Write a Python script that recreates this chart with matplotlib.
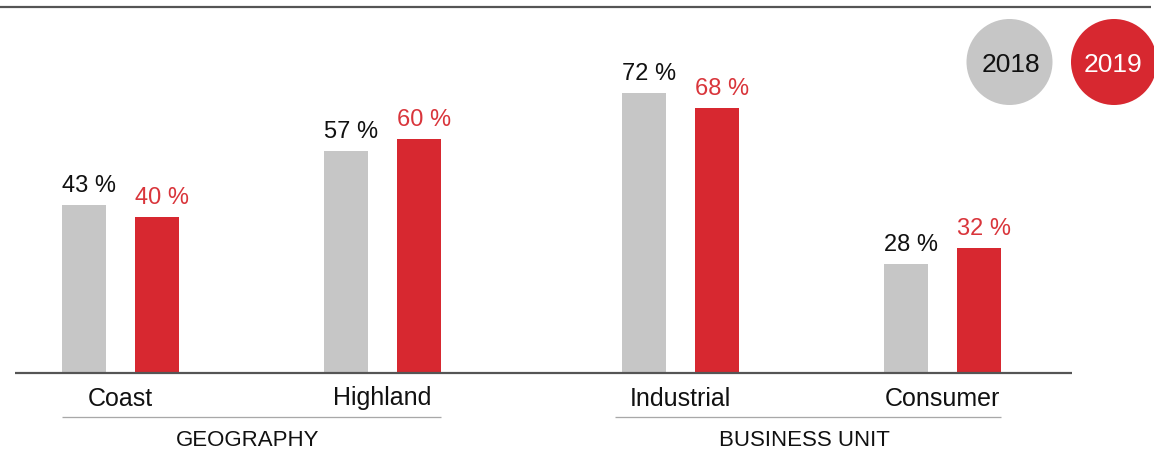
import matplotlib
matplotlib.use('Agg')
import matplotlib.pyplot as plt
from matplotlib.patches import Circle

# ---------------- data ----------------
categories = ['Coast', 'Highland', 'Industrial', 'Consumer']
groups = ['GEOGRAPHY', 'BUSINESS UNIT']
group_of = [0, 0, 1, 1]
series = ['2018', '2019']
values_2018 = [43, 57, 72, 28]
values_2019 = [40, 60, 68, 32]

# ---------------- style ----------------
W, H, DPI = 1154, 451, 100
GRAY = '#c6c6c6'
RED = '#d72830'
RED_TXT = '#d9353b'
DARK = '#555555'
LINE_GRAY = '#a8a8a8'
PT = 72.0 / DPI  # points per pixel

plt.rcParams['font.family'] = ['Liberation Sans', 'DejaVu Sans']

fig = plt.figure(figsize=(W / DPI, H / DPI), dpi=DPI)

# overlay axes in pixel coordinates for decorations
ov = fig.add_axes([0, 0, 1, 1])
ov.set_xlim(0, W)
ov.set_ylim(H, 0)
ov.axis('off')
ov.set_zorder(3)

# bars axes
base_y = 372.7
px_per_unit = 3.89
unit_px = 262.0
x0_px = 120.5
ax = fig.add_axes([0, (H - base_y) / H, 1, base_y / H])
ax.set_ylim(0, base_y / px_per_unit)
ax.set_xlim(-x0_px / unit_px, (W - x0_px) / unit_px)
ax.axis('off')

group_gap = 36.0 / unit_px
pos = [i + group_gap * g for i, g in enumerate(group_of)]
bw = 44.0 / unit_px
off = 36.5 / unit_px

x18 = [p - off for p in pos]
x19 = [p + off for p in pos]
ax.bar(x18, values_2018, width=bw, color=GRAY, zorder=2)
ax.bar(x19, values_2019, width=bw, color=RED, zorder=2)

for xs, vals, col in ((x18, values_2018, '#111111'), (x19, values_2019, RED_TXT)):
    for x, v in zip(xs, vals):
        ax.annotate(f'{v} %', xy=(x - bw / 2, v), xytext=(0, 13 * PT),
                    textcoords='offset points', ha='left', va='baseline',
                    fontsize=17, color=col, annotation_clip=False)

for p, c in zip(pos, categories):
    ax.annotate(c, xy=(p, 0), xytext=(0, -(405.5 - base_y) * PT),
                textcoords='offset points', ha='center', va='baseline',
                fontsize=18, color='#111111', annotation_clip=False)

# group lines and labels
line_y = -(416.7 - base_y) / px_per_unit
extra_left = [0.0, 7.0 / unit_px]
for g, name in enumerate(groups):
    idx = [i for i, gg in enumerate(group_of) if gg == g]
    left = pos[idx[0]] - off - bw / 2 - extra_left[g]
    right = pos[idx[-1]] + off + bw / 2
    ax.plot([left, right], [line_y, line_y], color=LINE_GRAY, lw=1.3 * PT,
            clip_on=False, solid_capstyle='butt')
    ax.annotate(name, xy=((left + right) / 2 - 4 / unit_px, 0),
                xytext=(0, -(446 - base_y) * PT), textcoords='offset points',
                ha='center', va='baseline', fontsize=16, color='#111111',
                annotation_clip=False)

# baseline and top rule
ov.plot([15, 1072], [base_y, base_y], color=DARK, lw=2.2 * PT, solid_capstyle='butt')
ov.plot([0, 1151], [6.7, 6.7], color=DARK, lw=2.2 * PT, solid_capstyle='butt')

# legend circles
ov.add_patch(Circle((1009.5, 62), 43, color=GRAY, lw=0))
ov.add_patch(Circle((1114, 62), 43, color=RED, lw=0))
ov.text(1010.5, 72.5, series[0], ha='center', va='baseline', fontsize=19, color='#111111')
ov.text(1113, 71.7, series[1], ha='center', va='baseline', fontsize=19, color='white')

fig.savefig('out.png', dpi=DPI)
